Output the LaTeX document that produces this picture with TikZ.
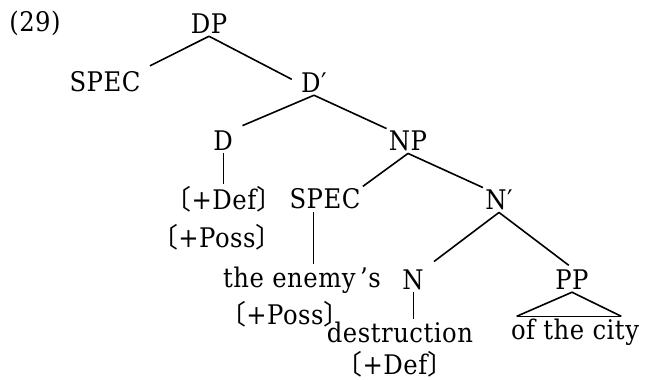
\documentclass[tikz,border=0pt]{standalone}
\usepackage{fontspec}
\setmainfont[LetterSpace=2]{DejaVu Serif Condensed}
\newfontfamily\cjk{Noto Sans CJK JP}
\usetikzlibrary{calc}
\newcommand{\lbrk}{{\cjk\kern-0.5em〔}}
\newcommand{\rbrk}{{\cjk〕\kern-0.5em}}

\begin{document}
\begin{tikzpicture}[x=0.5pt,y=-0.5pt,
  font=\fontsize{13.5}{16}\selectfont,
  every node/.style={inner sep=1pt},
  branch/.style={line width=0.8pt}]
\useasboundingbox (0,0) rectangle (645,380);
%номер примера
\node (ex) at (35,23) {(29)};
%узлы дерева
\node (dp) at (209,24) {DP};
\node (spec) at (105,82) {SPEC};
\node (dbar) at (314,83) {D′};
\node (d) at (223,141) {D};
\node (np) at (408,141) {NP};
\node (def) at (224,199) {\lbrk+Def\rbrk};
\node (poss) at (217,237) {\lbrk+Poss\rbrk};
\node (nspec) at (325,199) {SPEC};
\node (nbar) at (499,200) {N′};
\node (enemy) at (302,280) {the enemy\,’s};
\node (n) at (413,280) {N};
\node (pp) at (572,280) {PP};
\node (possb) at (285,314) {\lbrk+Poss\rbrk};
\node (destr) at (400,332) {destruction};
\node (city) at (575,332) {of the city};
\node (defb) at (395,364) {\lbrk+Def\rbrk};
%ветви
\draw[branch,shorten >=4pt] (dp.south) -- (spec.north east);
\draw[branch,shorten >=4pt] (dp.south) -- (dbar.west);
\draw[branch,shorten >=4pt] (dbar.south) -- (d.north east);
\draw[branch] (dbar.south) -- (np.north west);
\draw[branch] (np.south) -- (nspec.north east);
\draw[branch] (np.south) -- (nbar.north west);
\draw[branch,shorten >=5pt] (nbar.south) -- (n.north east);
\draw[branch,shorten >=2pt] (nbar.south) -- (pp.north);
\draw[thin] (d.south) -- (d.south |- def.north);
\coordinate (sfoot) at ($(nspec.south west)!0.35!(nspec.south east)$);
\draw[thin] (sfoot) -- (sfoot |- enemy.north);
\draw[thin] (n.south) -- (n.south |- destr.north);
%треугольник
\draw[branch] ([xshift=4pt]city.north west) -- (pp.south) -- ([xshift=-10pt]city.north east);
\draw[thin] ([xshift=4pt]city.north west) -- ([xshift=-10pt]city.north east);
\end{tikzpicture}
\end{document}
